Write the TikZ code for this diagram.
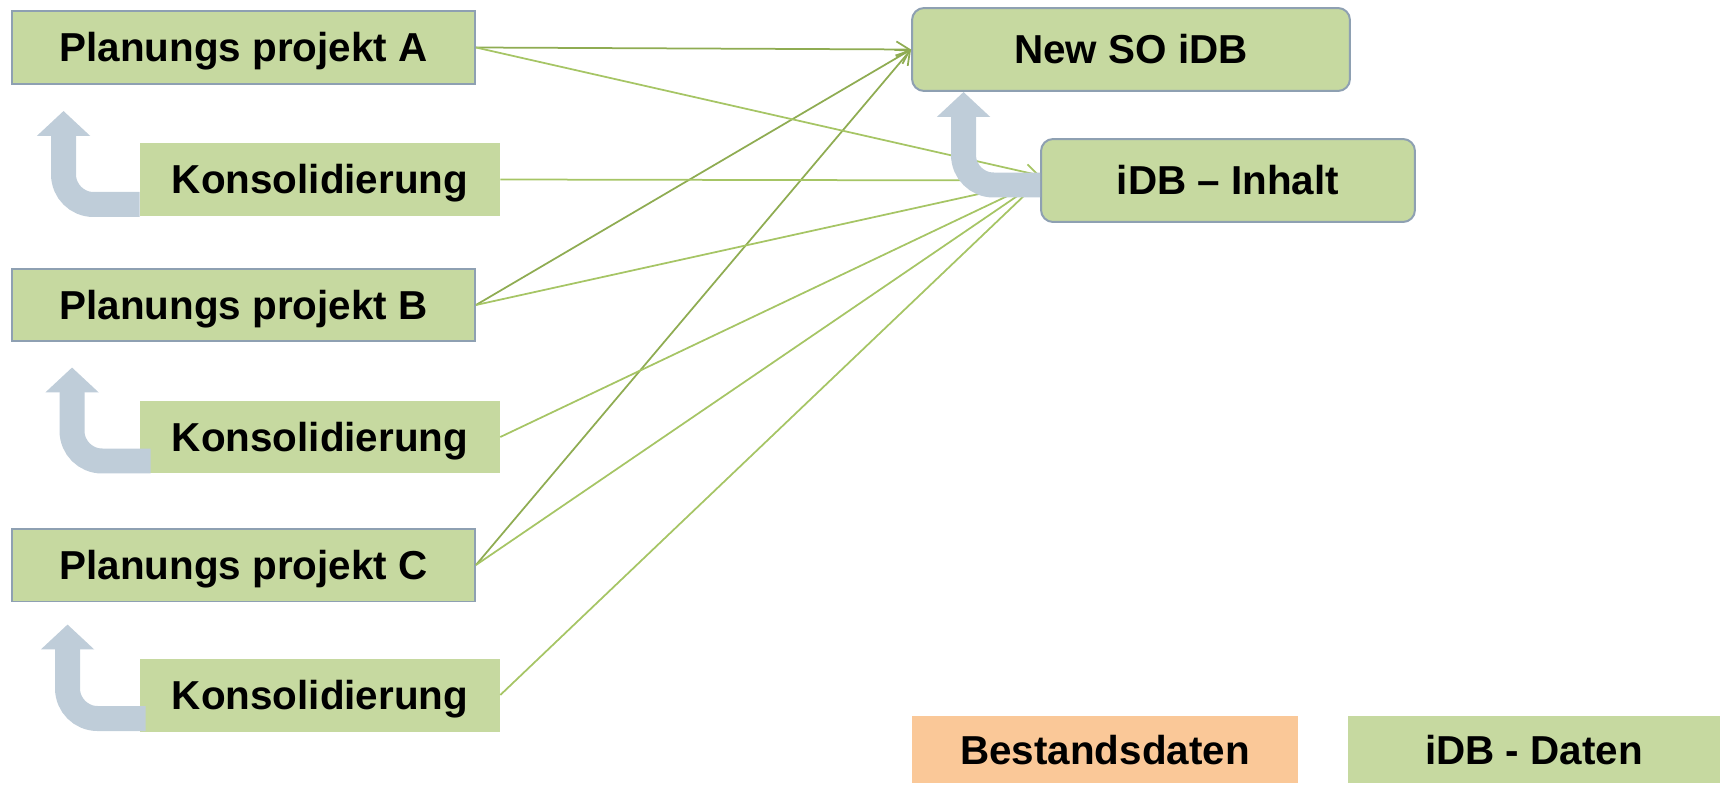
\documentclass[tikz,border=0pt]{standalone}
\usepackage{fontspec}
\setmainfont{Liberation Sans}
\usepackage{tikz}
\usepackage{xcolor}
\usetikzlibrary{positioning, arrows.meta}

\definecolor{boxgreen}{HTML}{C6D9A0}
\definecolor{boxorange}{HTML}{FAC898}
\definecolor{boxline}{HTML}{8EA0B2}
\definecolor{bendgray}{HTML}{BFCDD9}
\definecolor{linkgreen}{HTML}{A6C565}
\definecolor{linkdark}{HTML}{8FAC52}

\newcommand{\boxfont}{\bfseries\fontsize{23}{27}\selectfont}

\tikzset{
    proj/.style={rectangle, draw=boxline, line width=0.04cm, fill=boxgreen, inner sep=0pt,
        minimum width=9.26cm, minimum height=1.46cm, font=\boxfont, text height=16.5pt, text depth=0pt},
    kons/.style={rectangle, fill=boxgreen, inner sep=0pt,
        minimum width=7.2cm, minimum height=1.46cm, font=\boxfont, text height=16.5pt, text depth=0pt},
    dbbox/.style={rectangle, rounded corners=0.24cm, draw=boxline, line width=0.04cm, fill=boxgreen,
        inner sep=0pt, minimum height=1.66cm, font=\boxfont, text height=16.5pt, text depth=0pt},
    legendbox/.style={rectangle, inner sep=0pt, minimum height=1.34cm, font=\boxfont,
        text height=16.5pt, text depth=0pt},
    linkline/.style={linkgreen, line width=0.035cm, -{Straight Barb[length=0.26cm, width=0.32cm]}},
    bentarrow/.style={bendgray, line width=0.5cm, rounded corners=0.6cm,
        -{Triangle[width=1.04cm, length=0.5cm]}},
}

\begin{document}
\begin{tikzpicture}[x=0.02cm, y=-0.02cm]
            \useasboundingbox (0, 0) rectangle (1720, 784);

            \node[proj] (PA) at (243.5, 47.5) {Planungs projekt A};
            \node[proj] (PB) at (243.5, 305) {Planungs projekt B};
            \node[proj] (PC) at (243.5, 565) {Planungs projekt C};
            \node[kons] (KA) at (320, 179.5) {Konsolidierung};
            \node[kons] (KB) at (320, 437) {Konsolidierung};
            \node[kons] (KC) at (320, 695) {Konsolidierung};

            \node[dbbox, minimum width=8.76cm] (NewSO) at (1131, 49.5) {New SO iDB};
            \node[dbbox, minimum width=7.48cm] (Inhalt) at (1228, 180.5) {iDB -- Inhalt};

            \node[legendbox, fill=boxorange, minimum width=7.72cm] (Bestand) at (1105, 749.5) {Bestandsdaten};
            \node[legendbox, fill=boxgreen, minimum width=7.44cm] (Daten) at (1534, 749.5) {iDB - Daten};

            % zur neuen iDB
            \draw[linkline, linkdark] (PA.east) -- (NewSO.west);
            \draw[linkline, linkdark] (PB.east) -- (NewSO.west);
            \draw[linkline, linkdark] (PC.east) -- (NewSO.west);

            % zum Inhalt
            \draw[linkline] (PA.east) -- ([yshift=0.1cm]Inhalt.west);
            \draw[linkline] (KA.east) -- (Inhalt.west);
            \draw[linkline] (PB.east) -- (Inhalt.west);
            \draw[linkline] (KB.east) -- (Inhalt.west);
            \draw[linkline] (PC.east) -- (Inhalt.west);
            \draw[linkline] (KC.east) -- (Inhalt.west);

            \draw[bentarrow] ([yshift=-0.5cm]KA.west) -| ([shift={(1.05cm,-0.52cm)}]PA.south west);
            \draw[bentarrow] ([shift={(0.22cm,-0.48cm)}]KB.west) -| ([shift={(1.22cm,-0.5cm)}]PB.south west);
            \draw[bentarrow] ([shift={(0.12cm,-0.47cm)}]KC.west) -| ([shift={(1.13cm,-0.44cm)}]PC.south west);
            \draw[bentarrow] ([yshift=-0.09cm]Inhalt.west) -| ([xshift=1.05cm]NewSO.south west);
        \end{tikzpicture}
\end{document}
